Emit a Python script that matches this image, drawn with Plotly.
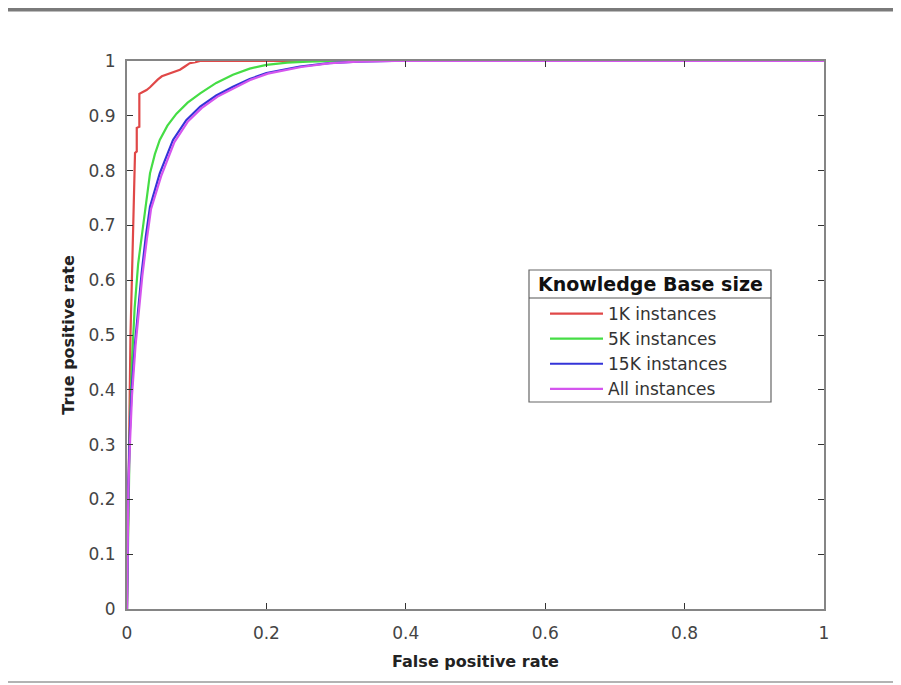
import plotly.graph_objects as go

# ---- data ----
series_names = ["1K instances", "5K instances", "15K instances", "All instances"]
series_colors = ["#e04848", "#45dd45", "#3434d8", "#d455ee"]

fpr_1k = [0, 0.001, 0.002, 0.003, 0.004, 0.005, 0.007, 0.009, 0.0115, 0.0115, 0.014, 0.014,
          0.0177, 0.0177, 0.022, 0.028, 0.033, 0.038, 0.044, 0.050, 0.058, 0.066, 0.076,
          0.083, 0.090, 0.098, 0.105, 0.2, 0.4, 1.0]
tpr_1k = [0, 0.12, 0.22, 0.33, 0.42, 0.50, 0.60, 0.70, 0.80, 0.832, 0.835, 0.878,
          0.88, 0.94, 0.943, 0.947, 0.952, 0.959, 0.966, 0.972, 0.976, 0.979, 0.984,
          0.990, 0.996, 0.998, 1.0, 1.0, 1.0, 1.0]

fpr_5k = [0, 0.002, 0.004, 0.007, 0.011, 0.016, 0.021, 0.025, 0.029, 0.033, 0.040, 0.047,
          0.058, 0.071, 0.087, 0.105, 0.128, 0.152, 0.176, 0.2, 0.23, 0.26, 0.30, 1.0]
tpr_5k = [0, 0.18, 0.32, 0.45, 0.55, 0.63, 0.68, 0.72, 0.76, 0.795, 0.83, 0.856,
          0.882, 0.904, 0.924, 0.941, 0.960, 0.975, 0.986, 0.993, 0.997, 0.999, 1.0, 1.0]

fpr_15k = [0, 0.002, 0.004, 0.0067, 0.0115, 0.017, 0.021, 0.027, 0.033, 0.047, 0.066, 0.085,
           0.105, 0.128, 0.152, 0.176, 0.2, 0.248, 0.29, 0.33, 0.38, 1.0]
tpr_15k = [0, 0.23, 0.32, 0.40, 0.485, 0.56, 0.613, 0.68, 0.734, 0.795, 0.856, 0.892,
           0.917, 0.937, 0.953, 0.967, 0.978, 0.990, 0.996, 0.999, 1.0, 1.0]

fpr_all = [0, 0.002, 0.0045, 0.0072, 0.0122, 0.018, 0.022, 0.0285, 0.0345, 0.049, 0.068, 0.087,
           0.107, 0.130, 0.154, 0.178, 0.202, 0.25, 0.292, 0.332, 0.385, 1.0]
tpr_all = [0, 0.22, 0.31, 0.39, 0.48, 0.555, 0.608, 0.675, 0.73, 0.79, 0.852, 0.889,
           0.914, 0.935, 0.951, 0.966, 0.977, 0.989, 0.996, 0.999, 1.0, 1.0]

x_ticks = [0, 0.2, 0.4, 0.6, 0.8, 1]
x_tick_labels = ["0", "0.2", "0.4", "0.6", "0.8", "1"]
y_ticks = [0, 0.1, 0.2, 0.3, 0.4, 0.5, 0.6, 0.7, 0.8, 0.9, 1]
y_tick_labels = ["0", "0.1", "0.2", "0.3", "0.4", "0.5", "0.6", "0.7", "0.8", "0.9", "1"]

x_title = "False positive rate"
y_title = "True positive rate"
legend_title = "Knowledge Base size"

# ---- figure (page has an 8px body margin, so figure coords = page coords - 8) ----
OFF = 8
W, H = 901 - OFF, 685 - OFF
L, T = 127 - OFF, 61 - OFF
R = W - (824 - OFF)
B = H - (609 - OFF)
pw, ph = W - L - R, H - T - B

def px(x):  # page x -> paper
    return (x - OFF - L) / pw

def py(y):  # page y -> paper
    return (H - B - (y - OFF)) / ph

fig = go.Figure()
for name, color, xs, ys in zip(series_names, series_colors,
                               [fpr_1k, fpr_5k, fpr_15k, fpr_all],
                               [tpr_1k, tpr_5k, tpr_15k, tpr_all]):
    fig.add_trace(go.Scatter(x=xs, y=ys, mode="lines", name=name,
                             line=dict(color=color, width=2.2)))

axis_color = "#858585"
tick_font = dict(family="DejaVu Sans", size=17, color="#444444")
title_font = dict(family="DejaVu Sans", size=16, color="#222222")

fig.update_xaxes(range=[0, 1], tickvals=x_ticks, ticktext=x_tick_labels,
                 showline=True, linecolor=axis_color, linewidth=2, mirror="ticks",
                 ticks="inside", ticklen=6, tickcolor="#333333", tickwidth=1,
                 showgrid=False, zeroline=False, tickfont=tick_font,
                 ticklabelstandoff=8,
                 title=dict(text="<b>" + x_title + "</b>", font=title_font, standoff=13))
fig.update_yaxes(range=[0, 1], tickvals=y_ticks, ticktext=y_tick_labels,
                 showline=True, linecolor=axis_color, linewidth=2, mirror="ticks",
                 ticks="inside", ticklen=6, tickcolor="#333333", tickwidth=1,
                 showgrid=False, zeroline=False, tickfont=tick_font,
                 ticklabelstandoff=6,
                 title=dict(text="<b>" + y_title + "</b>", font=title_font, standoff=10))

shapes = [
    # outer frame of the screenshot (top band and bottom line)
    dict(type="rect", xref="paper", yref="paper", x0=px(0), x1=px(901), y0=py(8), y1=py(11.5),
         fillcolor="#7a7a7a", line=dict(width=0), layer="above"),
    dict(type="line", xref="paper", yref="paper", x0=px(8), x1=px(901), y0=py(682), y1=py(682),
         line=dict(color="#9a9a9a", width=1.5), layer="above"),
    # legend box and title separator
    dict(type="rect", xref="paper", yref="paper", x0=px(529), x1=px(771), y0=py(270), y1=py(402),
         fillcolor="white", line=dict(color="#666666", width=1.2), layer="above"),
    dict(type="line", xref="paper", yref="paper", x0=px(529), x1=px(771), y0=py(298), y1=py(298),
         line=dict(color="#555555", width=1.2), layer="above"),
]

annotations = [
    dict(text="<b>" + legend_title + "</b>", xref="paper", yref="paper",
         x=px(650), y=py(284), xanchor="center", yanchor="middle", showarrow=False,
         font=dict(family="DejaVu Sans", size=19, color="#111111")),
]

fig.update_layout(
    width=W, height=H,
    margin=dict(l=L, r=R, t=T, b=B, autoexpand=False),
    paper_bgcolor="white", plot_bgcolor="white",
    font=dict(family="DejaVu Sans"),
    showlegend=True,
    legend=dict(x=px(529), y=py(296), xanchor="left", yanchor="top",
                borderwidth=0, bgcolor="rgba(255,255,255,0)",
                font=dict(family="DejaVu Sans", size=17, color="#333333"),
                tracegroupgap=0, indentation=16, itemwidth=53),
    shapes=shapes,
    annotations=annotations,
)

fig.write_html("out.html")
